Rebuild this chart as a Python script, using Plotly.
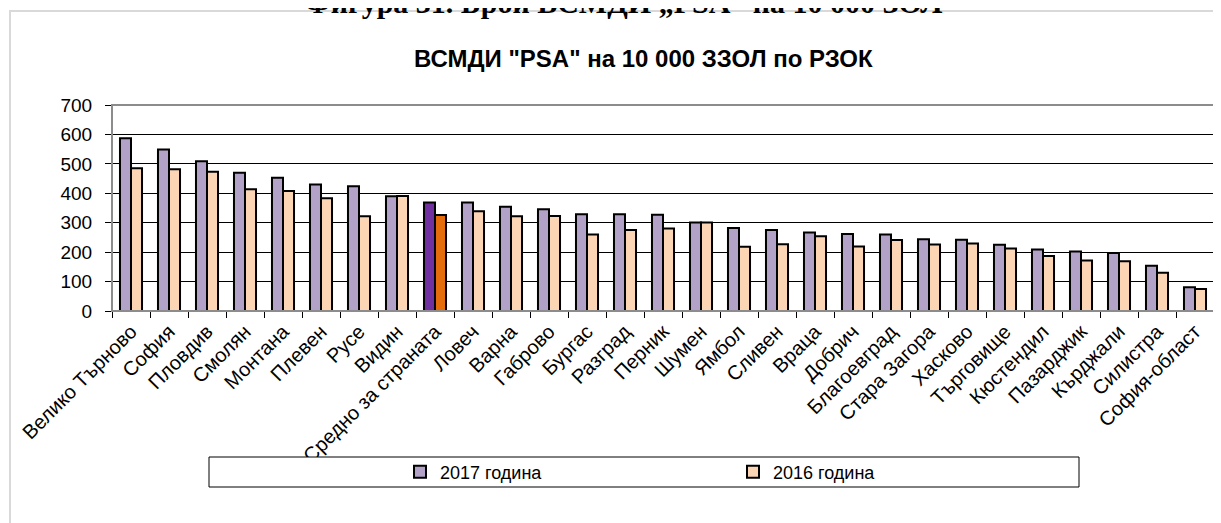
import plotly.graph_objects as go

categories = ["Велико Търново", "София", "Пловдив", "Смолян", "Монтана", "Плевен", "Русе", "Видин",
              "Средно за страната", "Ловеч", "Варна", "Габрово", "Бургас", "Разград", "Перник", "Шумен",
              "Ямбол", "Сливен", "Враца", "Добрич", "Благоевград", "Стара Загора", "Хасково", "Търговище",
              "Кюстендил", "Пазарджик", "Кърджали", "Силистра", "София-област"]
values_2017 = [587, 549, 509, 470, 453, 430, 424, 390, 369, 369, 354, 346, 329, 329, 327, 301,
               282, 275, 267, 262, 260, 244, 242, 225, 209, 202, 197, 154, 81]
values_2016 = [485, 482, 473, 414, 408, 383, 322, 391, 326, 339, 322, 323, 260, 275, 280, 301,
               218, 227, 254, 219, 241, 226, 229, 212, 187, 172, 169, 130, 75]
series_names = ["2017 година", "2016 година"]
y_ticks = [0, 100, 200, 300, 400, 500, 600, 700]
chart_title = 'ВСМДИ "PSA" на 10 000 ЗЗОЛ по РЗОК'
figure_caption = "Фигура 31. Брой ВСМДИ „PSA“ на 10 000 ЗОЛ"
highlight = "Средно за страната"

c2017, c2016 = "#B3A2C7", "#FCD5B4"
h2017, h2016 = "#7030A0", "#E46C0A"
colors_2017 = [h2017 if c == highlight else c2017 for c in categories]
colors_2016 = [h2016 if c == highlight else c2016 for c in categories]

# page body has an 8px margin: work in reference-pixel coordinates, shifted by OFF
OFF = 8
W, H = 1221 - OFF, 523 - OFF
PL, PR, PT, PB = 112, 1214, 105, 311   # plot area in reference pixels
L, T = PL - OFF, PT - OFF
R = W - (PR - OFF)
B = H - (PB - OFF)
pw, ph = W - L - R, H - T - B

def px(x):
    return (x - OFF - L) / pw

def py(y):
    return (H - B - (y - OFF)) / ph

FONT = "Arial, Liberation Sans, sans-serif"

fig = go.Figure()
fig.add_trace(go.Bar(x=categories, y=values_2017, name=series_names[0],
                     marker=dict(color=colors_2017, line=dict(color="black", width=2)),
                     legend="legend"))
fig.add_trace(go.Bar(x=categories, y=values_2016, name=series_names[1],
                     marker=dict(color=colors_2016, line=dict(color="black", width=2)),
                     legend="legend2"))

legend_common = dict(orientation="h", bgcolor="rgba(0,0,0,0)", borderwidth=0,
                     font=dict(family=FONT, size=18, color="black"),
                     yanchor="middle", xanchor="left", y=py(472))

fig.update_layout(
    width=W, height=H,
    margin=dict(l=L, r=R, t=T, b=B, autoexpand=False),
    paper_bgcolor="white", plot_bgcolor="white",
    barmode="group", bargap=0.42, bargroupgap=0,
    showlegend=True,
    legend=dict(x=px(400), **legend_common),
    legend2=dict(x=px(733), **legend_common),
    xaxis=dict(type="category", tickangle=-45, tickson="boundaries", ticks="outside",
               ticklen=6, tickcolor="black", showline=True, linecolor="black", linewidth=1,
               tickfont=dict(family=FONT, size=20, color="black"), showgrid=False),
    yaxis=dict(range=[0, 700], tickvals=y_ticks, ticks="outside", ticklen=6, tickcolor="black",
               showline=True, linecolor="black", linewidth=1, showgrid=True,
               gridcolor="black", gridwidth=1, zeroline=False, ticklabelstandoff=9,
               tickfont=dict(family=FONT, size=19, color="black")),
    shapes=[
        dict(type="rect", xref="paper", yref="paper", x0=0, x1=1, y0=0, y1=1,
             line=dict(color="#8C8C8C", width=2), fillcolor="rgba(0,0,0,0)", layer="above"),
        dict(type="rect", xref="paper", yref="paper", x0=px(10), x1=px(1300), y0=py(11), y1=py(600),
             line=dict(color="#D9D9D9", width=2), fillcolor="rgba(0,0,0,0)", layer="below"),
        dict(type="rect", xref="paper", yref="paper", x0=px(209), x1=px(1079), y0=py(457), y1=py(487),
             line=dict(color="black", width=1), fillcolor="white", layer="above"),
    ],
    annotations=[
        dict(text=f"<b>{chart_title}</b>", xref="paper", yref="paper", x=px(643), y=py(58),
             xanchor="center", yanchor="middle", showarrow=False,
             font=dict(family=FONT, size=24, color="black")),
        dict(text=f"<b>{figure_caption}</b>", xref="paper", yref="paper", x=px(624), y=py(2),
             xanchor="center", yanchor="middle", showarrow=False,
             font=dict(family="Liberation Serif, Times New Roman, serif", size=30, color="black")),
    ],
)

fig.write_html("out.html")
